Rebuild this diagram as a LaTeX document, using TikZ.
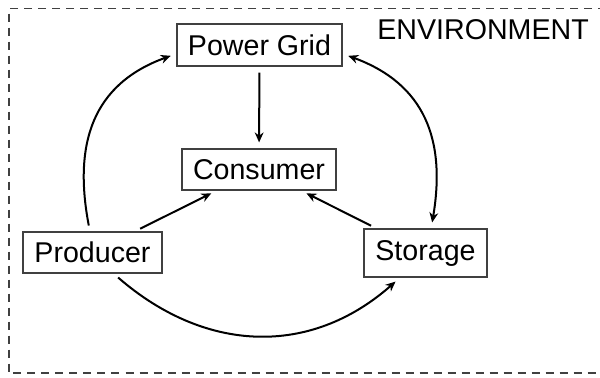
\documentclass[tikz,border=0pt]{standalone}
\usepackage{fontspec}
\setmainfont{Liberation Sans}
\usetikzlibrary{arrows.meta}
\begin{document}
\begin{tikzpicture}[x=0.5pt,y=-0.5pt,
  lbl/.style={font=\fontsize{14.3}{17}\selectfont},
  box/.style={lbl, draw=black!75, line width=0.6pt, inner sep=0pt},
  arr/.style={-{Stealth[length=5pt,width=4.4pt]}, line width=1pt, shorten >=3pt, shorten <=3pt},
  darr/.style={{Stealth[length=5pt,width=4.4pt]}-{Stealth[length=5pt,width=4.4pt]}, line width=1pt, shorten >=3pt, shorten <=3pt},
  envline/.style={draw=black!75, line width=0.6pt, dash pattern=on 4pt off 3pt}]
\useasboundingbox (0,0) rectangle (600,377);
% environment frame
\draw[envline] (620,8.5) -- (9,8.5) -- (9,373) -- (620,373);
\node[lbl, anchor=base west, inner sep=0pt] (envlabel) at (377,39) {ENVIRONMENT};
% nodes
\node[box, minimum width=82.5pt, minimum height=21pt] (pg) at (259.5,45) {Power Grid};
\node[box, minimum width=77pt, minimum height=20.5pt] (cons) at (259,169.5) {Consumer};
\node[box, minimum width=69.5pt, minimum height=20.5pt] (prod) at (92.5,252.5) {Producer};
\node[box, minimum width=61.5pt, minimum height=24pt] (stor) at (425.5,253) {Storage};
% straight connectors
\draw[arr] (pg) -- (cons);
\draw[arr] (prod) -- (cons);
\draw[arr] (stor) -- (cons);
% curved connectors
\draw[arr] (prod.97) .. controls (73,143) and (93,84) .. (pg.186);
\draw[darr] (stor.77) .. controls (446,140) and (425,84) .. (pg.354);
\draw[arr] (prod.-45) .. controls (205,353) and (310,357) .. (stor.224);
\end{tikzpicture}
\end{document}
